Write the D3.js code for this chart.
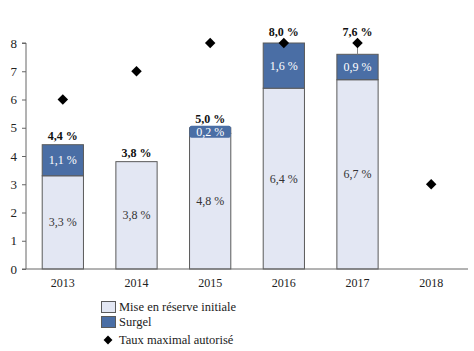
<!DOCTYPE html>
<html lang="fr">
<head>
<meta charset="utf-8">
<script src="https://d3js.org/d3.v7.min.js"></script>
<style>
  body { margin: 0; background: #fff; }
  svg text { font-family: "Liberation Serif", "DejaVu Serif", serif; }
</style>
</head>
<body>
<script>
  // data
  const years = ["2013", "2014", "2015", "2016", "2017", "2018"];
  const reserve = [3.3, 3.8, 4.8, 6.4, 6.7, null];
  const surgel = [1.1, 0, 0.2, 1.6, 0.9, null];
  const totals = [4.4, 3.8, 5.0, 8.0, 7.6, null];
  const tauxMax = [6, 7, 8, 8, 8, 3];
  const yTicks = [0, 1, 2, 3, 4, 5, 6, 7, 8];

  const W = 474, H = 351;
  const fmt = v => v.toFixed(1).replace(".", ",") + " %";
  const light = "#e3e7f3", dark = "#4a6ea5", edge = "#5a5a5a";
  const serif = "'Liberation Serif', 'DejaVu Serif', serif";

  const svg = d3.select("body").append("svg")
    .attr("width", W).attr("height", H);

  const x = d3.scaleBand().domain(years).range([26, 468]).paddingInner(0.44).paddingOuter(0.22);
  const y = d3.scaleLinear().domain([0, 8]).range([269, 43]);

  // y axis
  const ya = svg.append("g").attr("transform", "translate(26,0)")
    .attr("font-family", serif)
    .call(d3.axisLeft(y).tickValues(yTicks).tickSize(4).tickPadding(5).tickFormat(d3.format("d")));
  ya.attr("font-family", serif);
  ya.select(".domain").attr("stroke", "#666").attr("d", `M-4,${y(8)}H0V${y(0)}`);
  ya.selectAll(".tick line").attr("stroke", "#666");
  ya.selectAll("text").attr("font-size", 13).attr("fill", "#222");

  // bars
  const g = svg.append("g");
  years.forEach((yr, i) => {
    if (reserve[i] == null) return;
    const bx = x(yr), bw = x.bandwidth();
    g.append("rect").attr("x", bx).attr("width", bw)
      .attr("y", y(reserve[i])).attr("height", y(0) - y(reserve[i]))
      .attr("fill", light).attr("stroke", edge).attr("stroke-width", 1);
    if (surgel[i] > 0) {
      g.append("rect").attr("x", bx).attr("width", bw)
        .attr("y", y(totals[i])).attr("height", y(reserve[i]) - y(totals[i]))
        .attr("fill", dark).attr("stroke", edge).attr("stroke-width", 1);
    }
    // inner labels
    g.append("text").attr("x", bx + bw / 2).attr("y", y(reserve[i] / 2) + 4)
      .attr("text-anchor", "middle").attr("font-size", 12).attr("fill", "#333")
      .text(fmt(reserve[i]));
    if (surgel[i] > 0) {
      const cy = surgel[i] < 0.5 ? y(totals[i]) + 4 : y(reserve[i] + surgel[i] / 2);
      if (surgel[i] < 0.5) {
        g.append("rect").attr("x", bx).attr("width", bw)
          .attr("y", cy - 6).attr("height", 12).attr("rx", 2)
          .attr("fill", dark);
      }
      g.append("text").attr("x", bx + bw / 2).attr("y", cy + 4)
        .attr("text-anchor", "middle").attr("font-size", 12).attr("fill", "#fff")
        .text(fmt(surgel[i]));
    }
  });

  // x axis
  svg.append("line").attr("x1", 22).attr("x2", 468)
    .attr("y1", y(0)).attr("y2", y(0)).attr("stroke", "#666");
  svg.append("g").selectAll("text").data(years).join("text")
    .attr("x", d => x(d) + x.bandwidth() / 2).attr("y", 287)
    .attr("text-anchor", "middle").attr("font-size", 12).attr("fill", "#222")
    .text(d => d);

  // leader line for 2017
  svg.append("line").attr("x1", x("2017") + x.bandwidth() / 2).attr("x2", x("2017") + x.bandwidth() / 2)
    .attr("y1", y(tauxMax[4])).attr("y2", y(totals[4])).attr("stroke", "#888");

  // diamonds
  const diamond = d3.symbol().type(d3.symbolDiamond2).size(70);
  svg.append("g").selectAll("path").data(tauxMax).join("path")
    .attr("transform", (d, i) => `translate(${x(years[i]) + x.bandwidth() / 2},${y(d)})`)
    .attr("d", diamond).attr("fill", "#000");

  // total labels
  svg.append("g").selectAll("text").data(totals).join("text")
    .filter(d => d != null)
    .attr("x", (d, i) => x(years[i]) + x.bandwidth() / 2)
    .attr("y", (d, i) => {
      const near = tauxMax[i] <= d + 0.5;
      return y(near ? tauxMax[i] : d) - (near ? 7 : 5);
    })
    .attr("text-anchor", "middle").attr("font-size", 12).attr("font-weight", "bold").attr("fill", "#111")
    .text(d => fmt(d));

  // legend
  const lg = svg.append("g");
  lg.append("rect").attr("x", 101.5).attr("y", 301.5).attr("width", 14).attr("height", 11)
    .attr("fill", light).attr("stroke", edge);
  lg.append("text").attr("x", 119).attr("y", 311).attr("font-size", 12.5).attr("fill", "#222")
    .text("Mise en réserve initiale");
  lg.append("rect").attr("x", 101.5).attr("y", 316.5).attr("width", 14).attr("height", 11)
    .attr("fill", dark).attr("stroke", edge);
  lg.append("text").attr("x", 119).attr("y", 326).attr("font-size", 12.5).attr("fill", "#222")
    .text("Surgel");
  lg.append("path").attr("transform", "translate(108,340)")
    .attr("d", d3.symbol().type(d3.symbolDiamond2).size(50)).attr("fill", "#000");
  lg.append("text").attr("x", 119).attr("y", 344).attr("font-size", 12.5).attr("fill", "#222")
    .text("Taux maximal autorisé");
</script>
</body>
</html>
